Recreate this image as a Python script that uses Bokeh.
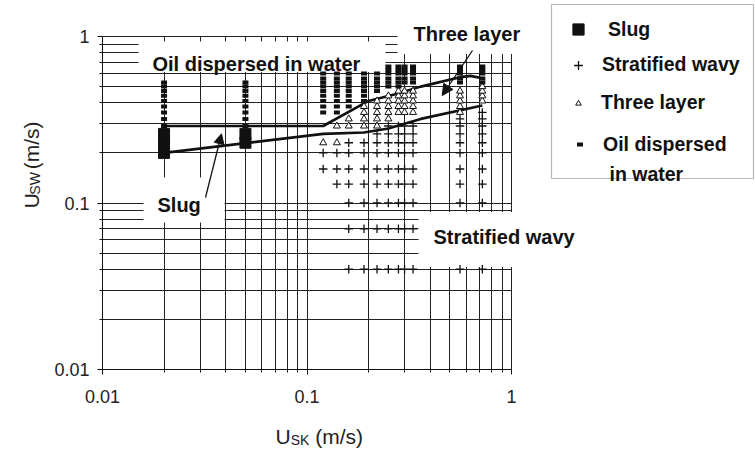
import math
from bokeh.plotting import figure
from bokeh.layouts import row, column
from bokeh.models import (Range1d, FixedTicker, CustomJSTickFormatter, BoxAnnotation,
                          Label, Arrow, NormalHead, Legend, LegendItem)
from bokeh.embed import file_html
from bokeh.resources import INLINE

# ---------------- data ----------------
USK_COLS = [0.02, 0.05, 0.12, 0.14, 0.16, 0.19, 0.22, 0.25, 0.28, 0.30, 0.33, 0.56, 0.72]

SLUG_USW = [
    [0.20, 0.23, 0.26],
    [0.23, 0.26],
    [], [], [], [], [], [], [], [], [], [], [],
]

OIL_USW = [
    [0.29, 0.32, 0.35, 0.38, 0.41, 0.44, 0.47, 0.50, 0.53],
    [0.29, 0.32, 0.35, 0.38, 0.41, 0.44, 0.47, 0.50, 0.53],
    [0.35, 0.38, 0.41, 0.44, 0.47, 0.50, 0.53, 0.56, 0.60],
    [0.35, 0.38, 0.41, 0.44, 0.47, 0.50, 0.53, 0.56, 0.60],
    [0.38, 0.41, 0.44, 0.47, 0.50, 0.53, 0.56, 0.60],
    [0.41, 0.44, 0.47, 0.50, 0.53, 0.56, 0.60],
    [0.47, 0.50, 0.53, 0.56, 0.60],
    [0.50, 0.53, 0.56, 0.60, 0.63, 0.66],
    [0.50, 0.53, 0.56, 0.60, 0.63, 0.66],
    [0.53, 0.56, 0.60, 0.63, 0.66],
    [0.53, 0.56, 0.60, 0.63, 0.66],
    [0.53, 0.56, 0.60, 0.63, 0.66],
    [0.53, 0.56, 0.60, 0.63, 0.66],
]

THREE_USW = [
    [], [],
    [0.23],
    [0.23, 0.29],
    [0.29, 0.32],
    [0.29, 0.32, 0.35, 0.38],
    [0.29, 0.32, 0.35, 0.38, 0.41],
    [0.32, 0.35, 0.38, 0.41, 0.44],
    [0.35, 0.38, 0.41, 0.44, 0.47],
    [0.35, 0.38, 0.41, 0.44, 0.47],
    [0.35, 0.38, 0.41, 0.44, 0.47],
    [0.35, 0.38, 0.41, 0.44, 0.47],
    [0.41, 0.44, 0.47, 0.50],
]

STRAT_USW = [
    [], [],
    [0.16, 0.20],
    [0.13, 0.16, 0.20],
    [0.04, 0.07, 0.10, 0.13, 0.16, 0.20, 0.23],
    [0.04, 0.07, 0.10, 0.13, 0.16, 0.20, 0.23],
    [0.04, 0.07, 0.10, 0.13, 0.16, 0.20, 0.23, 0.26],
    [0.04, 0.07, 0.10, 0.13, 0.16, 0.20, 0.23, 0.26, 0.29],
    [0.04, 0.07, 0.10, 0.13, 0.16, 0.20, 0.23, 0.26, 0.29],
    [0.04, 0.07, 0.10, 0.13, 0.16, 0.20, 0.23, 0.26, 0.29],
    [0.04, 0.07, 0.10, 0.13, 0.16, 0.20, 0.23, 0.26, 0.29],
    [0.04, 0.10, 0.13, 0.16, 0.20, 0.23, 0.26, 0.29, 0.32],
    [0.04, 0.10, 0.13, 0.16, 0.20, 0.23, 0.26, 0.29, 0.32, 0.35],
]

UPPER_USK = [0.02, 0.12, 0.20, 0.27, 0.36, 0.56, 0.63, 0.73]
UPPER_USW = [0.29, 0.29, 0.41, 0.45, 0.50, 0.57, 0.58, 0.56]
LOWER_USK = [0.02, 0.12, 0.19, 0.25, 0.36, 0.72]
LOWER_USW = [0.20, 0.26, 0.265, 0.28, 0.32, 0.385]

MAJOR_TICKS = [0.01, 0.1, 1.0]
MINOR_TICKS = [0.02, 0.03, 0.04, 0.05, 0.06, 0.07, 0.08, 0.09,
               0.2, 0.3, 0.4, 0.5, 0.6, 0.7, 0.8, 0.9]
AXIS_MIN, AXIS_MAX = 0.01, 1.0

# ---------------- layout constants (canvas pixels) ----------------
W, H = 755, 452
YT_W = 50                  # strip holding the y-axis title
XT_H = 38                  # strip holding the x-axis title
MAIN_H = H - XT_H
X0, DX = 102.0, 204.5      # canvas pixel of x=0.01, pixels per decade
Y0, DY = 369.0, 166.5      # canvas pixel of y=0.01, pixels per decade
FONT = "Liberation Sans"
INK = "#111111"
GREY_TXT = "#222222"


def xd(px):
    return 10 ** ((px - X0) / DX - 2)


def yd(py):
    return 10 ** ((Y0 - py) / DY - 2)


def flatten(cols, groups):
    xs, ys = [], []
    for x, g in zip(cols, groups):
        xs += [x] * len(g)
        ys += list(g)
    return xs, ys


p = figure(width=W - YT_W, height=MAIN_H, x_axis_type="log", y_axis_type="log",
           x_range=Range1d(AXIS_MIN, xd(W)), y_range=Range1d(AXIS_MIN, yd(0)),
           output_backend="svg", toolbar_location=None,
           min_border_left=int(X0) - YT_W, min_border_right=0, min_border_top=0,
           min_border_bottom=MAIN_H - int(Y0))
p.title.visible = False
p.outline_line_color = None
p.background_fill_color = "white"
p.border_fill_color = "white"

fmt = CustomJSTickFormatter(code="return String(Number(tick.toPrecision(6)));")
for ax in (p.xaxis[0], p.yaxis[0]):
    ax.ticker = FixedTicker(ticks=MAJOR_TICKS, minor_ticks=MINOR_TICKS)
    ax.formatter = fmt
    ax.bounds = (AXIS_MIN, AXIS_MAX)
    ax.axis_line_color = INK
    ax.axis_line_width = 1
    ax.major_tick_line_color = INK
    ax.minor_tick_line_color = INK
    ax.major_tick_in = 0
    ax.major_tick_out = 5
    ax.minor_tick_in = 0
    ax.minor_tick_out = 3
    ax.major_label_text_font = FONT
    ax.major_label_text_font_size = "18px"
    ax.major_label_text_color = GREY_TXT
p.yaxis.major_label_standoff = 8
p.xaxis.major_label_standoff = 15

for g in (p.xgrid[0], p.ygrid[0]):
    g.bounds = (AXIS_MIN, AXIS_MAX)
    g.cross_bounds = (AXIS_MIN, AXIS_MAX)
    g.grid_line_color = "#222222"
    g.grid_line_width = 1
    g.minor_grid_line_color = "#222222"
    g.minor_grid_line_width = 1


# white boxes behind the text labels (hide the grid)
def white_box(l, r, t, b, line_color=None, level="underlay"):
    p.add_layout(BoxAnnotation(left=xd(l), right=xd(r), top=yd(t), bottom=yd(b),
                               fill_color="white", fill_alpha=1.0,
                               line_color=line_color, line_width=1.2, level=level))


white_box(138, 385, 41, 71.5)        # Oil dispersed in water
white_box(397, 540, -5, 53.5)        # Three layer
white_box(143, 224, 177, 222)        # Slug
white_box(418, 620, 211.5, 266.5)    # Stratified wavy
white_box(551, 753, 4, 178, line_color=INK)   # legend frame

# boundary lines
p.line(UPPER_USK, UPPER_USW, line_color=INK, line_width=2.6)
p.line(LOWER_USK, LOWER_USW, line_color=INK, line_width=2.6)

# markers
sx, sy = flatten(USK_COLS, SLUG_USW)
r_slug = p.scatter(sx, sy, marker="square", size=11, fill_color=INK, line_color=INK)
wx, wy = flatten(USK_COLS, STRAT_USW)
r_strat = p.scatter(wx, wy, marker="cross", size=8.5, line_color=INK, line_width=1.3)
tx, ty = flatten(USK_COLS, THREE_USW)
r_three = p.scatter(tx, ty, marker="triangle", size=7, fill_color="white",
                    line_color=INK, line_width=1)
ox, oy = flatten(USK_COLS, OIL_USW)
r_oil = p.scatter(ox, oy, marker="dash", size=6, line_color=INK, line_width=4)


def label(text, left_px, base_px, size, style="bold", angle=0.0, color=INK):
    p.add_layout(Label(x=xd(left_px), y=yd(base_px), text=text, text_font=FONT,
                       text_font_size=f"{size}px", text_font_style=style,
                       text_color=color, text_align="left",
                       text_baseline="alphabetic", angle=angle))


# region labels
label("Oil dispersed in water", 152, 63.3, 20)
label("Three layer", 413, 33.5, 20)
label("Slug", 157, 204.3, 20)
label("Stratified wavy", 433, 236, 20)

# arrows
p.add_layout(Arrow(end=NormalHead(size=10, fill_color=INK, line_color=INK, line_width=1),
                   x_start=xd(205), y_start=yd(197), x_end=xd(221), y_end=yd(133.3),
                   line_color=INK, line_width=1.3))
p.add_layout(Arrow(end=NormalHead(size=11, fill_color=INK, line_color=INK, line_width=1),
                   x_start=xd(472), y_start=yd(50), x_end=xd(441.7), y_end=yd(95),
                   line_color=INK, line_width=1.3))

# legend (one Legend per entry so each symbol keeps its own size)
ROW_H = 28


def add_legend(text, renderer, gw, standoff, left_px, cy_px):
    leg = Legend(items=[LegendItem(label=text, renderers=[renderer])],
                 location=(left_px - X0, Y0 - (cy_px + ROW_H / 2)),
                 orientation="vertical", padding=0, margin=0, spacing=0,
                 glyph_width=gw, glyph_height=ROW_H, label_height=ROW_H, label_width=10,
                 label_standoff=standoff, label_text_font=FONT,
                 label_text_font_size="19.5px", label_text_font_style="bold",
                 label_text_color=INK, border_line_color=None,
                 background_fill_alpha=0)
    p.add_layout(leg)


add_legend("Slug", r_slug, 28, 16, 564, 29)
add_legend("Stratified wavy", r_strat, 22, 13, 567, 64.5)
add_legend("Three layer", r_three, 14, 16, 571, 102.5)
add_legend("Oil dispersed", r_oil, 15, 16, 572, 144)
label("in water", 609, 173.3, 19.5)


# ---------------- axis-title strips (plain text with subscripts) ----------------
def strip(width, height, x0, y0):
    f = figure(width=width, height=height, output_backend="svg", toolbar_location=None,
               x_range=Range1d(x0, x0 + width), y_range=Range1d(y0 + height, y0),
               x_axis_location=None, y_axis_location=None,
               min_border=0, min_border_left=0, min_border_right=0,
               min_border_top=0, min_border_bottom=0)
    f.title.visible = False
    f.outline_line_color = None
    f.grid.visible = False
    f.background_fill_color = "white"
    f.border_fill_color = "white"
    return f


def tlabel(fig, text, x, y, size, angle=0.0):
    fig.add_layout(Label(x=x, y=y, text=text, text_font=FONT, text_font_size=f"{size}px",
                         text_font_style="normal", text_color=GREY_TXT, text_align="left",
                         text_baseline="alphabetic", angle=angle))


xt = strip(W, XT_H, 0, MAIN_H)
U_W, SK_W, SW_W, SP_W = 0.722 * 21, 1.334 * 14, 1.611 * 14, 0.278 * 21
tlabel(xt, "U", 275, 436, 21)
tlabel(xt, "SK", 275 + U_W, 439, 14)
tlabel(xt, "(m/s)", 275 + U_W + SK_W + SP_W, 436, 21)

yt = strip(YT_W, MAIN_H, 0, 0)
tlabel(yt, "U", 31, 233, 21, angle=math.pi / 2)
tlabel(yt, "SW", 34, 233 - U_W, 14, angle=math.pi / 2)
tlabel(yt, "(m/s)", 31, 233 - U_W - SW_W - SP_W, 21, angle=math.pi / 2)

layout = column(row(yt, p, spacing=0), xt, spacing=0)
open("out.html", "w").write(file_html(layout, INLINE))
